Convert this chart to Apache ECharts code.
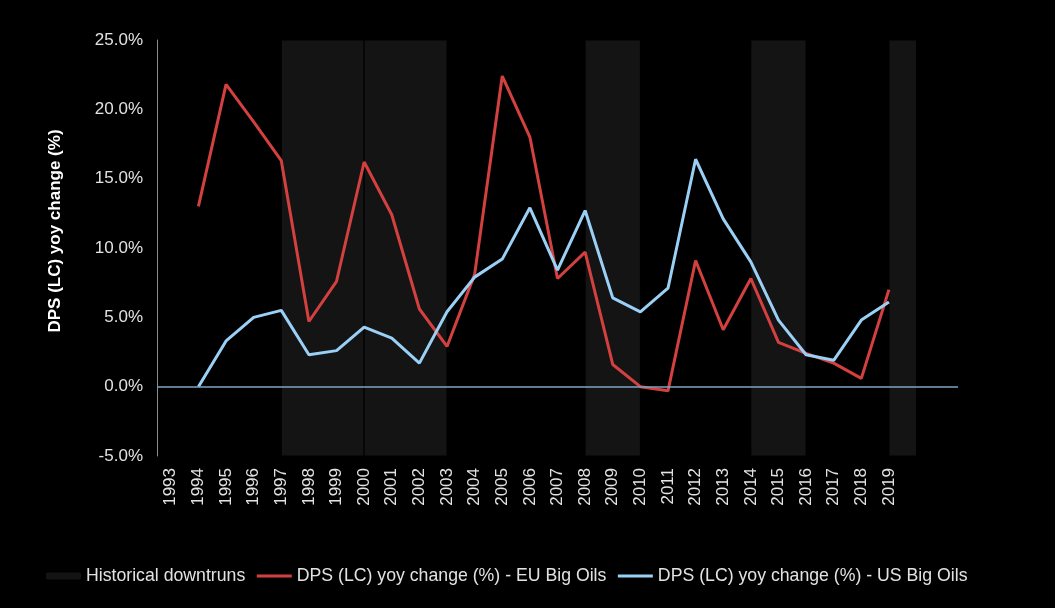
<!DOCTYPE html>
<html lang="en">

<head>
    <meta charset="UTF-8">
    <title>DPS yoy change</title>
    <script type="text/javascript" src="https://cdn.jsdelivr.net/npm/echarts@6/dist/echarts.min.js"></script>
    <style>
        html, body { margin: 0; padding: 0; background: #000; }
        .chart { width: 1055px; height: 608px; }
    </style>
</head>

<body>
    <div class="chart"></div>
</body>
<script>
    // categories (two empty slots after 2019, as in the source chart)
    const years = ['1993', '1994', '1995', '1996', '1997', '1998', '1999', '2000', '2001', '2002',
        '2003', '2004', '2005', '2006', '2007', '2008', '2009', '2010', '2011', '2012', '2013',
        '2014', '2015', '2016', '2017', '2018', '2019', '2020', '2021']
    const yearLabels = years.slice(0, 27) // 1993..2019 get a label
    const euDps = [null, 13.0, 21.8, 19.1, 16.3, 4.7, 7.6, 16.2, 12.4, 5.6, 2.9, 8.1, 22.4, 18.0,
        7.8, 9.7, 1.6, 0.0, -0.3, 9.1, 4.1, 7.8, 3.2, 2.4, 1.7, 0.6, 7.0]
    const usDps = [null, 0.0, 3.3, 5.0, 5.5, 2.3, 2.6, 4.3, 3.5, 1.7, 5.4, 7.9, 9.2, 12.9,
        8.4, 12.7, 6.4, 5.4, 7.1, 16.4, 12.1, 9.0, 4.8, 2.3, 1.9, 4.8, 6.1]
    // historical downturns: [from, to] year pairs (shaded from one year's point to the other's)
    const downturns = [['1997', '2000'], ['2000', '2003'], ['2008', '2010'], ['2014', '2016'], ['2019', '2020']]
    const yTicks = { min: -5, max: 25, step: 5 }

    const font = 'Arial, "Liberation Sans", sans-serif'
    const txt = '#e2e2e2'
    const names = ['Historical downtruns', 'DPS (LC) yoy change (%) - EU Big Oils', 'DPS (LC) yoy change (%) - US Big Oils']

    let chart = echarts.init(document.querySelector('.chart'))
    let option = {
        backgroundColor: '#000',
        animation: false,
        grid: { left: 157, right: 97, top: 40, bottom: 152 },
        graphic: [{
            type: 'text',
            x: 55,
            y: 231,
            rotation: Math.PI / 2,
            style: {
                text: 'DPS (LC) yoy change (%)',
                fill: '#fff',
                font: 'bold 17px ' + font,
                align: 'center',
                verticalAlign: 'middle'
            }
        }],
        legend: {
            left: 46,
            top: 567,
            padding: 0,
            itemWidth: 35,
            itemHeight: 7,
            itemGap: 10,
            lineStyle: { width: 3 },
            textStyle: { color: txt, fontSize: 17.7, fontFamily: font },
            data: [
                { name: names[0] },
                { name: names[1], itemStyle: { opacity: 0 } }, // line only, no dot
                { name: names[2], itemStyle: { opacity: 0 } }
            ]
        },
        xAxis: [{
            type: 'category',
            data: years,
            boundaryGap: true,
            axisLine: { show: false, onZero: false },
            axisTick: { show: false },
            axisLabel: {
                rotate: 90,
                margin: 12,
                interval: 0,
                color: txt,
                fontSize: 17,
                fontFamily: font,
                formatter: v => yearLabels.includes(v) ? v : ''
            }
        }, {
            // helper axis in category-index units, used for the shaded downturn areas
            type: 'value',
            show: false,
            min: -0.5,
            max: years.length - 0.5
        }],
        yAxis: {
            type: 'value',
            min: yTicks.min,
            max: yTicks.max,
            interval: yTicks.step,
            axisLine: { show: true, onZero: false, lineStyle: { color: '#8c8c8c', width: 1 } },
            axisTick: { show: false },
            splitLine: { show: false },
            axisLabel: {
                margin: 14,
                color: txt,
                fontSize: 17,
                fontFamily: font,
                formatter: v => v.toFixed(1) + '%'
            }
        },
        series: [{
            name: names[0],
            type: 'bar',
            xAxisIndex: 1,
            data: [],
            itemStyle: { color: '#141414' },
            silent: true,
            markArea: {
                silent: true,
                itemStyle: { color: '#141414', borderColor: '#000', borderWidth: 1 },
                data: downturns.map(d => [{ xAxis: years.indexOf(d[0]) }, { xAxis: years.indexOf(d[1]) }])
            },
            markLine: {
                silent: true,
                symbol: 'none',
                label: { show: false },
                lineStyle: { color: '#7fa3c2', width: 1.5, type: 'solid' },
                data: [{ yAxis: 0 }]
            }
        }, {
            name: names[1],
            type: 'line',
            data: euDps,
            symbol: 'none',
            lineStyle: { color: '#d2413f', width: 3 },
            itemStyle: { color: '#d2413f' },
            z: 3
        }, {
            name: names[2],
            type: 'line',
            data: usDps,
            symbol: 'none',
            lineStyle: { color: '#9bd0f6', width: 3 },
            itemStyle: { color: '#9bd0f6' },
            z: 4
        }]
    };
    chart.setOption(option)
</script>

</html>
